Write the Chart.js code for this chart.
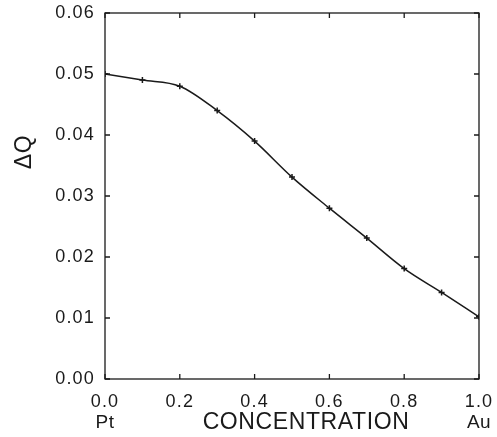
<!DOCTYPE html>
<html>
<head>
<meta charset="utf-8">
<script src="https://cdn.jsdelivr.net/npm/chart.js@4.4.0/dist/chart.umd.min.js"></script>
<style>
  html, body { margin: 0; padding: 0; background: #fff; }
</style>
</head>
<body>
<canvas id="chart" width="497" height="437"></canvas>
<script>
const concentration = [0.0, 0.1, 0.2, 0.3, 0.4, 0.5, 0.6, 0.7, 0.8, 0.9, 1.0]
const deltaQ        = [0.0500, 0.0490, 0.0480, 0.0440, 0.0390, 0.0331, 0.0280, 0.0231, 0.0181, 0.0142, 0.0102]
const xTicks        = [0.0, 0.2, 0.4, 0.6, 0.8, 1.0]
const yTicks        = [0.00, 0.01, 0.02, 0.03, 0.04, 0.05, 0.06]
const xTitle        = 'CONCENTRATION'
const yTitle        = 'ΔQ'
const endLabels     = ['Pt', 'Au']

const INK  = '#1a1a1a'
const FONT = '"Liberation Sans", Arial, sans-serif'

// frame, inward ticks and the free-standing labels
const framePlugin = {
  id: 'frame',
  beforeDraw(chart) {
    // the old typewriter-ish labels are a bit more spread out
    chart.ctx.letterSpacing = '1.2px'
  },
  afterDraw(chart) {
    const { ctx, chartArea: a, scales: { x, y } } = chart
    const len = 5
    ctx.save()
    ctx.strokeStyle = INK
    ctx.lineWidth = 1.3
    ctx.strokeRect(a.left, a.top, a.right - a.left, a.bottom - a.top)
    ctx.beginPath()
    xTicks.forEach(v => {
      const px = x.getPixelForValue(v)
      ctx.moveTo(px, a.bottom); ctx.lineTo(px, a.bottom - len)
      ctx.moveTo(px, a.top);    ctx.lineTo(px, a.top + len)
    })
    yTicks.forEach(v => {
      const py = y.getPixelForValue(v)
      ctx.moveTo(a.left, py);  ctx.lineTo(a.left + len, py)
      ctx.moveTo(a.right, py); ctx.lineTo(a.right - len, py)
    })
    ctx.stroke()

    ctx.fillStyle = INK
    ctx.textAlign = 'center'
    ctx.textBaseline = 'middle'
    ctx.font = '23px ' + FONT
    ctx.letterSpacing = '0.6px'
    ctx.fillText(xTitle, 306, 423)
    ctx.letterSpacing = '0.5px'
    ctx.font = '19px ' + FONT
    ctx.fillText(endLabels[0], x.getPixelForValue(0), 423)
    ctx.fillText(endLabels[1], x.getPixelForValue(1), 423)

    ctx.translate(25, 152)
    ctx.rotate(-Math.PI / 2)
    ctx.font = '23px ' + FONT
    ctx.fillText(yTitle, 0, 0)
    ctx.restore()
    ctx.letterSpacing = '0px'
  }
}

new Chart(document.getElementById('chart'), {
  type: 'scatter',
  data: {
    datasets: [{
      data: concentration.map((c, i) => ({ x: c, y: deltaQ[i] })),
      showLine: true,
      borderColor: INK,
      borderWidth: 1.5,
      cubicInterpolationMode: 'monotone',
      pointStyle: 'cross',
      pointRadius: 3,
      pointBorderWidth: 1.5,
      pointBorderColor: INK,
    }]
  },
  options: {
    responsive: false,
    animation: false,
    layout: { padding: { left: 0, right: 18, top: 13, bottom: 0 } },
    plugins: { legend: { display: false }, tooltip: { enabled: false } },
    scales: {
      x: {
        type: 'linear', min: 0, max: 1,
        afterBuildTicks: s => { s.ticks = xTicks.map(v => ({ value: v })) },
        afterFit: s => { s.height = 58; s.paddingLeft = 0; s.paddingRight = 0 },
        grid: { display: false, drawTicks: false },
        border: { display: false },
        ticks: { color: INK, padding: 12, maxRotation: 0, font: { family: FONT, size: 18 }, callback: v => v.toFixed(1) }
      },
      y: {
        type: 'linear', min: 0, max: 0.06,
        afterBuildTicks: s => { s.ticks = yTicks.map(v => ({ value: v })) },
        afterFit: s => { s.width = 105; s.paddingTop = 0; s.paddingBottom = 0 },
        grid: { display: false, drawTicks: false },
        border: { display: false },
        ticks: { color: INK, padding: 10, font: { family: FONT, size: 18 }, callback: v => v.toFixed(2) }
      }
    }
  },
  plugins: [framePlugin]
})
</script>
</body>
</html>
